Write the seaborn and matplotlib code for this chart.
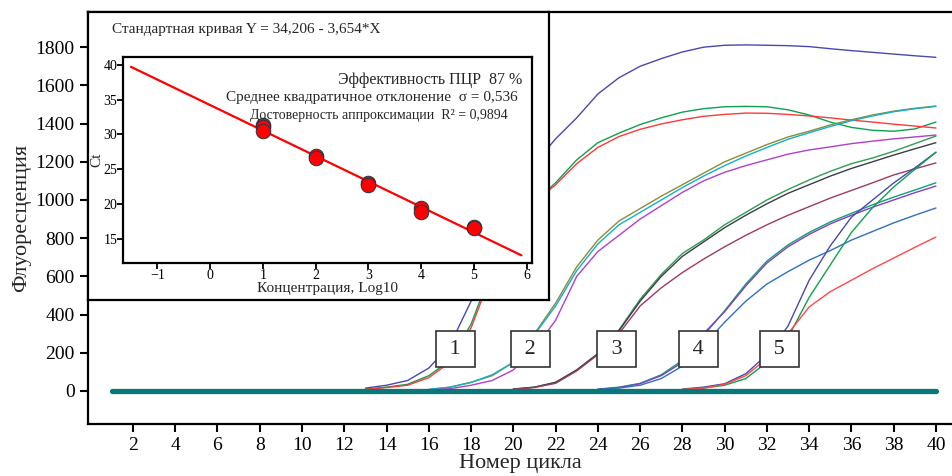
import numpy as np
import pandas as pd
import matplotlib
matplotlib.use('Agg')
import matplotlib.pyplot as plt
import seaborn as sns

# ===== Data =====

# group 1 (label "1")
cycles_g1 = list(range(13, 41))
g1_blue = [15, 30, 55, 120, 240, 470, 760, 1000, 1190, 1320, 1430, 1555, 1640, 1700,
           1740, 1775, 1800, 1810, 1812, 1810, 1808, 1803, 1792, 1782, 1773, 1764, 1755, 1747]
g1_green = [10, 20, 35, 80, 160, 350, 640, 850, 990, 1090, 1210, 1300, 1350, 1395,
            1430, 1460, 1478, 1488, 1490, 1488, 1472, 1445, 1408, 1380, 1365, 1360, 1372, 1408]
g1_red = [8, 18, 30, 70, 150, 330, 620, 840, 985, 1080, 1190, 1275, 1332, 1370,
          1398, 1420, 1438, 1448, 1455, 1454, 1448, 1440, 1430, 1418, 1408, 1397, 1387, 1377]

# group 2
cycles_g2 = list(range(16, 41))
g2_olive = [8, 20, 45, 80, 150, 300, 460, 650, 790, 890, 955, 1020, 1080, 1140, 1200,
            1245, 1290, 1330, 1360, 1393, 1420, 1445, 1465, 1480, 1492]
g2_cyan = [8, 20, 45, 85, 150, 295, 445, 630, 770, 870, 935, 1000, 1065, 1125, 1180,
           1230, 1275, 1318, 1352, 1385, 1415, 1440, 1462, 1478, 1490]
g2_violet = [5, 12, 30, 55, 110, 220, 370, 600, 730, 815, 900, 970, 1040, 1100, 1145,
             1180, 1210, 1240, 1262, 1278, 1295, 1308, 1320, 1330, 1340]

# group 3
cycles_g3 = list(range(20, 41))
g3_green = [10, 20, 45, 110, 195, 320, 480, 610, 720, 790, 870, 935, 1000, 1055, 1105,
            1150, 1190, 1220, 1255, 1295, 1335]
g3_dark = [10, 20, 45, 110, 195, 315, 470, 600, 705, 780, 855, 920, 980, 1035, 1080,
           1125, 1165, 1200, 1235, 1268, 1300]
g3_maroon = [8, 18, 40, 105, 190, 300, 445, 540, 620, 690, 755, 815, 870, 920, 965,
             1010, 1050, 1090, 1131, 1163, 1194]

# group 4
cycles_g4 = list(range(24, 41))
g4_teal = [10, 20, 40, 85, 160, 290, 420, 560, 680, 765, 830, 885, 930, 975, 1015, 1052, 1090]
g4_purple = [8, 18, 38, 80, 150, 300, 415, 550, 670, 755, 820, 875, 920, 962, 1000, 1038, 1073]
g4_blue = [8, 15, 30, 65, 130, 240, 360, 470, 560, 625, 685, 735, 790, 835, 880, 920, 958]

# group 5
cycles_g5 = list(range(28, 41))
g5_blue = [10, 20, 38, 90, 190, 340, 580, 760, 910, 1000, 1089, 1168, 1250]
g5_green = [8, 15, 30, 65, 150, 280, 490, 660, 830, 960, 1068, 1160, 1250]
g5_red = [8, 15, 35, 80, 170, 300, 440, 520, 580, 640, 696, 752, 806]

baseline_cycles = [1, 40]
baseline_values = [0, 0]

group_labels = ['1', '2', '3', '4', '5']
label_cycles = [17.26, 20.8, 24.9, 28.75, 32.6]

# standard curve inset
log_conc = [1, 1, 1, 2, 2, 3, 3, 4, 4, 5, 5]
ct_values = [31.4, 31.0, 30.5, 26.9, 26.6, 23.0, 22.8, 19.5, 18.8, 16.7, 16.5]
fit_intercept = 34.206
fit_slope = -3.654
fit_x = [-1.5, 5.9]

curves = [
    (cycles_g1, g1_blue, '#4848b0'), (cycles_g1, g1_green, '#0ea050'), (cycles_g1, g1_red, '#ff3838'),
    (cycles_g2, g2_olive, '#8c8c38'), (cycles_g2, g2_cyan, '#10b0c8'), (cycles_g2, g2_violet, '#b040c8'),
    (cycles_g3, g3_green, '#2e9e50'), (cycles_g3, g3_dark, '#3c3c48'), (cycles_g3, g3_maroon, '#a03868'),
    (cycles_g4, g4_teal, '#10a070'), (cycles_g4, g4_purple, '#8040c8'), (cycles_g4, g4_blue, '#3070c0'),
    (cycles_g5, g5_blue, '#4848b0'), (cycles_g5, g5_green, '#10a050'), (cycles_g5, g5_red, '#ff4848'),
]

# ===== Style =====
sns.set_theme(style='ticks')
plt.rcParams['font.family'] = ['Liberation Serif', 'DejaVu Serif']
plt.rcParams['axes.edgecolor'] = 'black'
plt.rcParams['xtick.color'] = 'black'
plt.rcParams['ytick.color'] = 'black'

fig = plt.figure(figsize=(9.52, 4.76), dpi=100)
fig.patch.set_facecolor('white')

# ===== Main amplification plot =====
ax = fig.add_axes([0.0924, 0.1092, 0.9076, 0.8655])
for cyc, vals, col in curves:
    sns.lineplot(x=cyc, y=vals, color=col, linewidth=1.0, ax=ax, estimator=None)
ax.plot(baseline_cycles, baseline_values, color='#0a7878', linewidth=3.8,
        solid_capstyle='round', zorder=3)

for lab, cx in zip(group_labels, label_cycles):
    ax.text(cx, 219, ' ' + lab + ' ', fontsize=16, ha='center', va='center', zorder=5,
            bbox=dict(boxstyle='square,pad=0.38', facecolor='white', edgecolor='#333333', linewidth=1.2))

ax.set_xlim(-0.13, 40.76)
ax.set_ylim(-173, 1984)
ax.set_xticks(np.arange(2, 41, 2))
ax.set_yticks(np.arange(0, 1801, 200))
ax.tick_params(axis='both', labelsize=14, length=6, width=1.5, direction='out')
ax.spines['right'].set_visible(False)
for s in ['left', 'bottom', 'top']:
    ax.spines[s].set_linewidth(1.6)
ax.set_xlabel('Номер цикла', fontsize=16, labelpad=0)
ax.set_ylabel('Флуоресценция', fontsize=16, labelpad=3)
ax.set_facecolor('white')

# ===== Inset frame =====
box = fig.add_axes([0.0924, 0.3697, 0.4842, 0.605])
box.set_xticks([])
box.set_yticks([])
box.set_facecolor('white')
for s in box.spines.values():
    s.set_linewidth(1.6)
    s.set_color('black')
box.text(0.053, 0.94, 'Стандартная кривая Y = 34,206 - 3,654*X', transform=box.transAxes,
         fontsize=11, ha='left', va='center')

# ===== Standard curve =====
ins = fig.add_axes([0.1292, 0.4475, 0.4296, 0.4328])
ins.set_facecolor('white')
fit_y = [fit_intercept + fit_slope * v for v in fit_x]
ins.plot(fit_x, fit_y, color='#ff0000', linewidth=1.6, zorder=2)
sns.scatterplot(x=log_conc, y=ct_values, ax=ins, color='#ff0000', edgecolor='#1a3a48',
                s=110, linewidth=0.7, zorder=3)
ins.set_xlim(-1.65, 6.1)
ins.set_ylim(11.55, 41.1)
ins.set_xticks(range(-1, 7))
ins.set_yticks(range(15, 41, 5))
ins.tick_params(axis='both', labelsize=10, length=4, width=1.3, direction='out', pad=0)
for s in ins.spines.values():
    s.set_linewidth(1.6)
ins.set_xlabel('Концентрация, Log10', fontsize=11, labelpad=0)
ins.set_ylabel('Ct', fontsize=11, labelpad=0)

ins.text(0.976, 0.888, 'Эффективность ПЦР  87 %', transform=ins.transAxes,
         fontsize=11.5, ha='right', va='center')
ins.text(0.966, 0.801, 'Среднее квадратичное отклонение  σ = 0,536', transform=ins.transAxes,
         fontsize=11, ha='right', va='center')
ins.text(0.941, 0.718, 'Достоверность аппроксимации  R² = 0,9894', transform=ins.transAxes,
         fontsize=10, ha='right', va='center')

fig.savefig('out.png', dpi=100, facecolor='white')
